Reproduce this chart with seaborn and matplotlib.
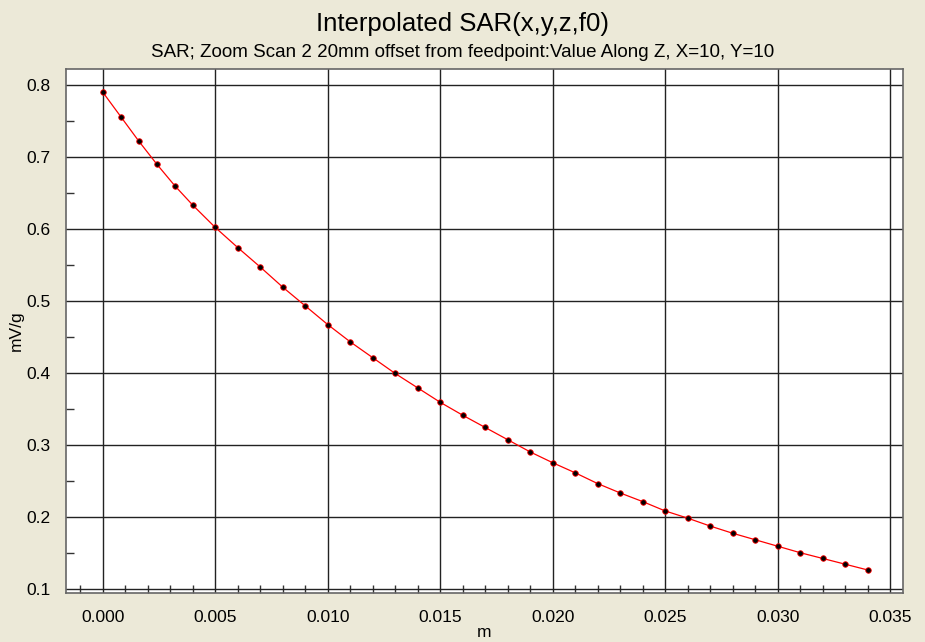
"""
SAR le long de Z - Zoom Scan 2 (20mm offset from feedpoint)
"""

import numpy as np
import pandas as pd
import matplotlib.pyplot as plt
import seaborn as sns
from matplotlib.ticker import MultipleLocator, FormatStrFormatter

# distance en m (pas de 0.8 mm au début, puis 1 mm)
z_m = [0.0, 0.0008, 0.0016, 0.0024, 0.0032, 0.004,
       0.005, 0.006, 0.007, 0.008, 0.009, 0.010,
       0.011, 0.012, 0.013, 0.014, 0.015, 0.016,
       0.017, 0.018, 0.019, 0.020, 0.021, 0.022,
       0.023, 0.024, 0.025, 0.026, 0.027, 0.028,
       0.029, 0.030, 0.031, 0.032, 0.033, 0.034]

# SAR en mW/g
sar = [0.790, 0.756, 0.722, 0.690, 0.660, 0.633,
       0.602, 0.574, 0.547, 0.519, 0.493, 0.467,
       0.443, 0.421, 0.399, 0.379, 0.359, 0.341,
       0.324, 0.307, 0.290, 0.275, 0.261, 0.246,
       0.233, 0.221, 0.208, 0.198, 0.187, 0.177,
       0.168, 0.159, 0.150, 0.142, 0.134, 0.126]

title = 'Interpolated SAR(x,y,z,f0)'
subtitle = 'SAR; Zoom Scan 2 20mm offset from feedpoint:Value Along Z, X=10, Y=10'

df = pd.DataFrame({'m': z_m, 'mW/g': sar})

sns.set_style('white')
plt.rcParams['font.family'] = ['Liberation Sans', 'DejaVu Sans']
for k in ('text.color', 'axes.labelcolor', 'xtick.color', 'ytick.color'):
    plt.rcParams[k] = 'black'

bg = '#ECE9D8'
fig = plt.figure(figsize=(9.25, 6.42), dpi=100, facecolor=bg)
ax = fig.add_axes([66 / 925, 1 - 593 / 642, (903 - 66) / 925, (593 - 69) / 642])
ax.set_facecolor('white')

sns.lineplot(data=df, x='m', y='mW/g', ax=ax, color='red', lw=0.9,
             marker='o', markersize=4, markerfacecolor='black',
             markeredgecolor='red', markeredgewidth=0.6)

ax.set_xlim(-0.00163, 0.03557)
ax.set_ylim(0.094, 0.822)

ax.xaxis.set_major_locator(MultipleLocator(0.005))
ax.xaxis.set_minor_locator(MultipleLocator(0.001))
ax.yaxis.set_major_locator(MultipleLocator(0.1))
ax.yaxis.set_minor_locator(MultipleLocator(0.05))
ax.xaxis.set_major_formatter(FormatStrFormatter('%.3f'))
ax.yaxis.set_major_formatter(FormatStrFormatter('%.1f'))

ax.grid(True, which='major', color='#222222', lw=1)
ax.tick_params(which='major', direction='out', length=8, width=1,
               color='#333333', labelsize=12.5, pad=3)
ax.tick_params(axis='x', which='major', pad=4)
ax.tick_params(which='minor', direction='in', length=6, width=1, color='#333333')
ax.tick_params(axis='x', which='minor', bottom=True)
ax.tick_params(axis='y', which='minor', left=True)

for s in ax.spines.values():
    s.set_color('#666666')
    s.set_linewidth(1.2)

ax.set_xlabel('m', fontsize=12.5, labelpad=0)
ax.set_ylabel('mV/g', fontsize=12.5, labelpad=2)

fig.text(0.5, 0.982, title, ha='center', va='top', fontsize=18.5)
fig.text(0.5, 0.932, subtitle, ha='center', va='top', fontsize=13.5)

plt.savefig('out.png', dpi=100, facecolor=bg)
